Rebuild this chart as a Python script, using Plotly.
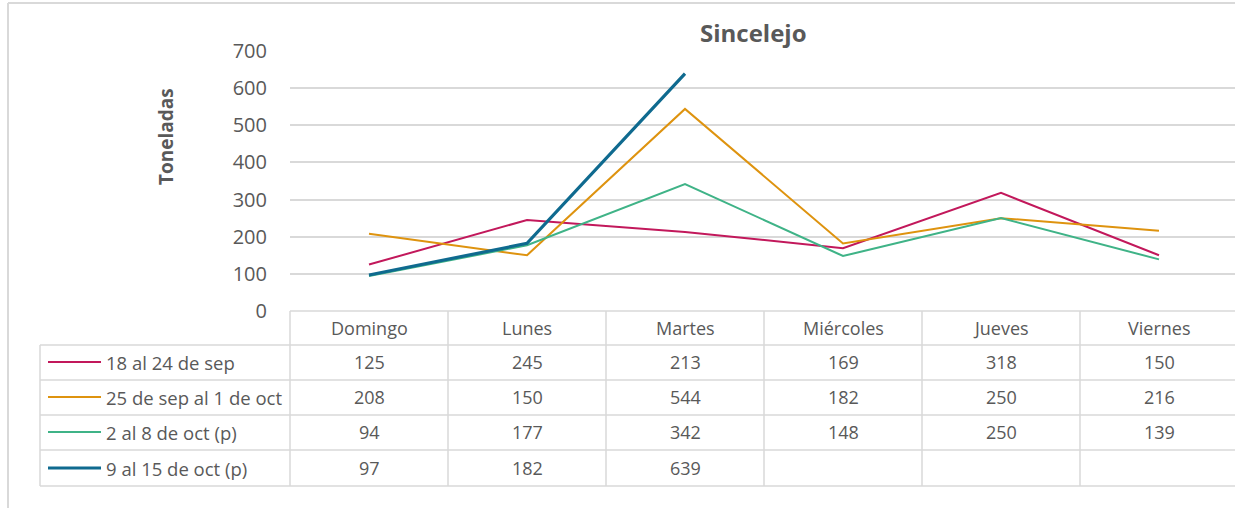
import plotly.graph_objects as go

categories = ["Domingo", "Lunes", "Martes", "Miércoles", "Jueves", "Viernes"]
series_names = ["18 al 24 de sep", "25 de sep al 1 de oct", "2 al 8 de oct (p)", "9 al 15 de oct (p)"]
s1 = [125, 245, 213, 169, 318, 150]
s2 = [208, 150, 544, 182, 250, 216]
s3 = [94, 177, 342, 148, 250, 139]
s4 = [97, 182, 639, None, None, None]
series_values = [s1, s2, s3, s4]
colors = ["#C2185B", "#DE930F", "#3FB387", "#0F6A8F"]
widths = [2, 2, 2, 3.2]
y_ticks = [0, 100, 200, 300, 400, 500, 600, 700]

W, H = 1235, 508
PL, PR = 290, 1235          # plot area pixel x
PT, PB = 51, 311            # plot area pixel y (700 .. 0)
col_w = 158.0
x_max = -0.5 + (PR - PL) / col_w

def px_x(px):
    return (px - PL) / (PR - PL)

def px_y(py):
    return (PB - py) / (PB - PT)

font = "Open Sans"
txt = "#595959"
grid = "#D9D9D9"

fig = go.Figure()
xs = list(range(len(categories)))
for name, vals, c, w in zip(series_names, series_values, colors, widths):
    fig.add_trace(go.Scatter(x=xs, y=vals, mode="lines", name=name,
                             line=dict(color=c, width=w), showlegend=False,
                             hoverinfo="skip"))

shapes = []
annotations = []
# table horizontal lines
row_lines = [311, 345, 380, 415, 450, 486]
for i, py in enumerate(row_lines):
    x0 = px_x(PL) if i == 0 else px_x(40)
    shapes.append(dict(type="line", xref="paper", yref="paper", x0=x0, x1=1,
                       y0=px_y(py), y1=px_y(py), line=dict(color=grid, width=1.5)))
# vertical lines
shapes.append(dict(type="line", xref="paper", yref="paper", x0=0, x1=0,
                   y0=px_y(311), y1=px_y(486), line=dict(color=grid, width=1.5)))
shapes.append(dict(type="line", xref="paper", yref="paper", x0=px_x(40), x1=px_x(40),
                   y0=px_y(345), y1=px_y(486), line=dict(color=grid, width=1.5)))
for k in range(len(categories) - 1):
    shapes.append(dict(type="line", xref="x", yref="paper", x0=k + 0.5, x1=k + 0.5,
                       y0=px_y(311), y1=px_y(486), line=dict(color=grid, width=1.5)))
# outer frame (partial)
shapes.append(dict(type="line", xref="paper", yref="paper", x0=px_x(8), x1=px_x(8),
                   y0=px_y(3), y1=px_y(510), line=dict(color=grid, width=2)))
shapes.append(dict(type="line", xref="paper", yref="paper", x0=px_x(8), x1=1,
                   y0=px_y(3), y1=px_y(3), line=dict(color=grid, width=2)))

# header
for k, cat in enumerate(categories):
    annotations.append(dict(x=k, y=px_y(328), xref="x", yref="paper", text=cat,
                            xanchor="center", yanchor="middle",
                            showarrow=False, font=dict(family=font, size=18, color=txt)))
row_centers = [362, 397, 432, 468]
for r, (name, vals, c, w) in enumerate(zip(series_names, series_values, colors, widths)):
    yc = px_y(row_centers[r])
    shapes.append(dict(type="line", xref="paper", yref="paper", x0=px_x(48), x1=px_x(101),
                       y0=yc, y1=yc, line=dict(color=c, width=w)))
    annotations.append(dict(x=px_x(104), y=yc, xref="paper", yref="paper", text=name,
                            showarrow=False, xanchor="left", yanchor="middle",
                            font=dict(family=font, size=18.5, color=txt)))
    for k, v in enumerate(vals):
        if v is None:
            continue
        annotations.append(dict(x=k, y=yc, xref="x", yref="paper", text=str(v),
                                xanchor="center", yanchor="middle",
                                showarrow=False, font=dict(family=font, size=18, color=txt)))

# title and axis title
annotations.append(dict(x=px_x(753), y=px_y(32), xref="paper", yref="paper",
                        text="<b>Sincelejo</b>", showarrow=False,
                        xanchor="center", yanchor="middle",
                        font=dict(family=font, size=24, color=txt)))
annotations.append(dict(x=px_x(166), y=px_y(137), xref="paper", yref="paper",
                        text="<b>Toneladas</b>", showarrow=False, textangle=-90,
                        xanchor="center", yanchor="middle",
                        font=dict(family=font, size=19, color=txt)))

fig.update_layout(
    width=W, height=H,
    margin=dict(l=PL, r=W - PR, t=PT, b=H - PB, pad=0),
    paper_bgcolor="white", plot_bgcolor="white",
    hovermode=False,
    xaxis=dict(range=[-0.5, x_max], showticklabels=False, showgrid=False,
               zeroline=False, showline=False, fixedrange=True),
    yaxis=dict(range=[0, 700], tickvals=y_ticks, showgrid=True, gridcolor=grid,
               gridwidth=1.5, zeroline=False, showline=False, ticks="",
               ticklabelstandoff=22, fixedrange=True,
               tickfont=dict(family=font, size=20, color=txt)),
    shapes=shapes, annotations=annotations,
)
fig.write_html("out.html", config={"displayModeBar": False},
               post_script="document.body.style.margin='0';document.body.style.overflow='hidden';")
